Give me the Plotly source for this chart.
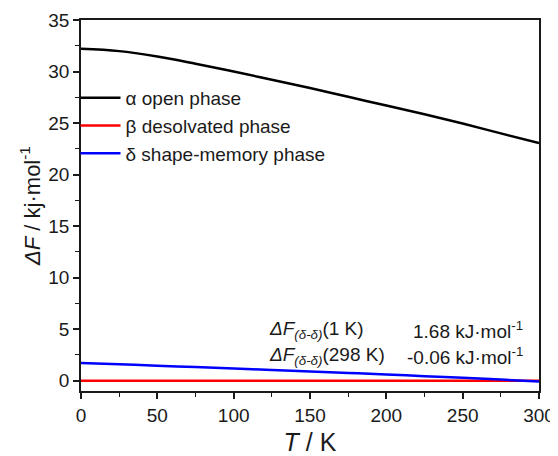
import plotly.graph_objects as go

T = [0, 25, 50, 75, 100, 125, 150, 175, 200, 225, 250, 275, 300]
alpha_open = [32.2, 31.98, 31.45, 30.75, 30.0, 29.2, 28.4, 27.55, 26.7, 25.85, 24.95, 24.0, 23.05]
beta_desolvated = [0.0, 0.0, 0.0, 0.0, 0.0, 0.0, 0.0, 0.0, 0.0, 0.0, 0.0, 0.0, 0.0]
delta_shape = [1.72, 1.59, 1.46, 1.32, 1.18, 1.04, 0.9, 0.75, 0.6, 0.44, 0.28, 0.11, -0.07]

names = ["α open phase", "β desolvated phase", "δ shape-memory phase"]
colors = ["#000000", "#ff0000", "#0000ff"]

fig = go.Figure()
for y, n, c in zip([alpha_open, beta_desolvated, delta_shape], names, colors):
    fig.add_trace(go.Scatter(x=T, y=y, mode="lines", name=n,
                             line=dict(color=c, width=2.5, shape="spline", smoothing=1.0)))

font = "Liberation Sans, Arial, sans-serif"
# page body has an 8px default margin, so the figure is sized to fit the 558x456 window
fig.update_layout(
    width=550, height=448,
    margin=dict(l=73, r=19, t=12, b=65, autoexpand=False),
    plot_bgcolor="white", paper_bgcolor="white",
    font=dict(family=font, color="#1a1a1a", size=19),
    legend=dict(x=-0.012, y=0.841, xanchor="left", yanchor="top",
                font=dict(size=19, color="#1a1a1a"), bgcolor="rgba(0,0,0,0)",
                tracegroupgap=0, itemwidth=40),
    showlegend=True,
)
fig.update_xaxes(
    range=[0, 300], tickvals=[0, 50, 100, 150, 200, 250, 300],
    showline=True, linecolor="#1a1a1a", linewidth=1.5, mirror=True,
    ticks="outside", ticklen=6, tickwidth=1.5, tickcolor="#1a1a1a",
    minor=dict(ticks="outside", ticklen=4, tickwidth=1.2, dtick=25, tickcolor="#1a1a1a"),
    showgrid=False, zeroline=False, automargin=False,
    title=dict(text="<i>T</i> / K", font=dict(size=25), standoff=16),
)
fig.update_yaxes(
    range=[-1, 35], tickvals=[0, 5, 10, 15, 20, 25, 30, 35],
    showline=True, linecolor="#1a1a1a", linewidth=1.5, mirror=True,
    ticks="outside", ticklen=6, tickwidth=1.5, tickcolor="#1a1a1a",
    minor=dict(ticks="outside", ticklen=4, tickwidth=1.2, dtick=2.5, tickcolor="#1a1a1a"),
    showgrid=False, zeroline=False, automargin=False,
    title=dict(text="<i>ΔF</i> / kj·mol<sup>-1</sup>", font=dict(size=22), standoff=2),
)

ann_left = ["<i>ΔF</i><sub><i>(δ-δ)</i></sub>(1 K)", "<i>ΔF</i><sub><i>(δ-δ)</i></sub>(298 K)"]
ann_right = ["1.68 kJ·mol<sup>-1</sup>", "-0.06 kJ·mol<sup>-1</sup>"]
ann_y = [4.95, 2.4]
for l, r, yy in zip(ann_left, ann_right, ann_y):
    fig.add_annotation(x=122, y=yy, text=l, showarrow=False, xanchor="left",
                       font=dict(size=19, color="#1a1a1a"))
    fig.add_annotation(x=291, y=yy, text=r, showarrow=False, xanchor="right",
                       font=dict(size=19, color="#1a1a1a"))

fig.write_html("out.html")
